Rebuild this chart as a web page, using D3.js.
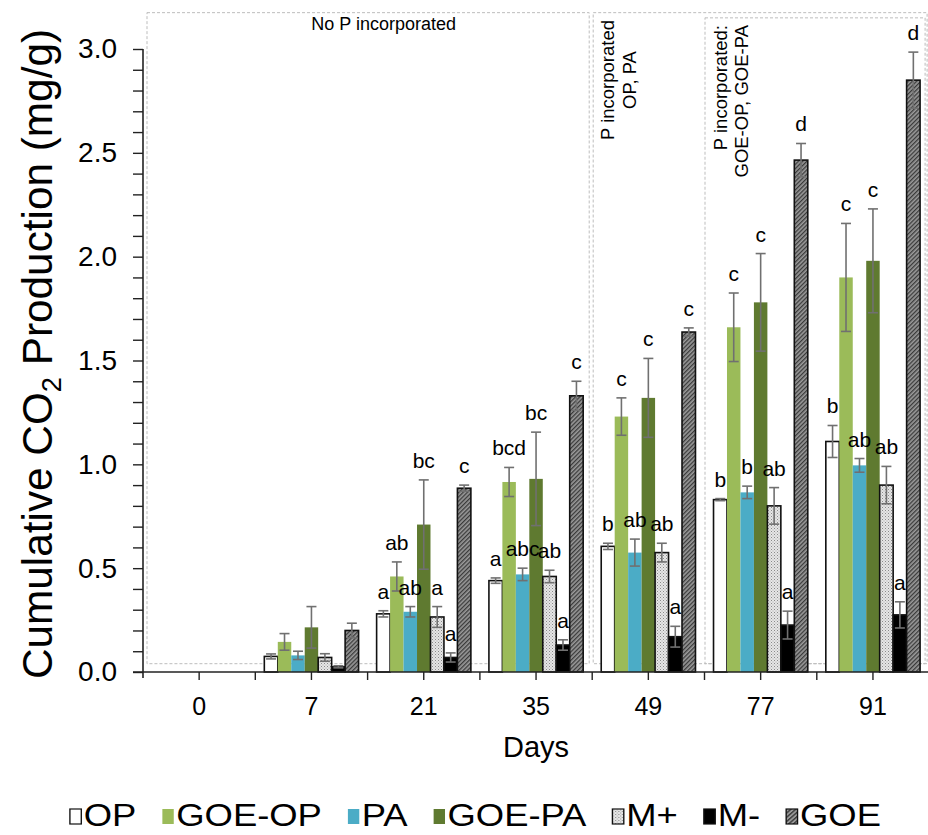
<!DOCTYPE html>
<html>
<head>
<meta charset="utf-8">
<script src="https://cdn.jsdelivr.net/npm/d3@7"></script>
<style>
  body { margin: 0; background: #fff; }
  text { font-family: "Liberation Sans", Arial, sans-serif; fill: #000; }
</style>
</head>
<body>
<svg id="chart" width="928" height="835"></svg>
<script>
// Sampling days (x categories) and treatments (series)
const days = ["0", "7", "21", "35", "49", "77", "91"];
const treatments = ["OP", "GOE-OP", "PA", "GOE-PA", "M+", "M-", "GOE"];

// Mean cumulative CO2 (mg/g) per treatment, one value per day
const meanOP    = [0, 0.075, 0.28, 0.44, 0.605, 0.83, 1.11];
const meanGOEOP = [0, 0.145, 0.46, 0.915, 1.23, 1.66, 1.90];
const meanPA    = [0, 0.08, 0.29, 0.47, 0.575, 0.865, 0.995];
const meanGOEPA = [0, 0.215, 0.71, 0.93, 1.32, 1.78, 1.98];
const meanMplus = [0, 0.07, 0.265, 0.46, 0.575, 0.80, 0.90];
const meanMminus= [0, 0.025, 0.07, 0.13, 0.17, 0.226, 0.275];
const meanGOE   = [0, 0.20, 0.885, 1.33, 1.637, 2.465, 2.85];

// Standard errors
const errOP    = [0, 0.012, 0.015, 0.013, 0.015, 0.005, 0.077];
const errGOEOP = [0, 0.04, 0.07, 0.07, 0.09, 0.165, 0.26];
const errPA    = [0, 0.02, 0.025, 0.03, 0.065, 0.03, 0.033];
const errGOEPA = [0, 0.10, 0.215, 0.225, 0.19, 0.235, 0.25];
const errMplus = [0, 0.018, 0.05, 0.03, 0.045, 0.088, 0.09];
const errMminus= [0, 0.005, 0.022, 0.025, 0.05, 0.067, 0.063];
const errGOE   = [0, 0.035, 0.015, 0.07, 0.02, 0.08, 0.135];

// Significance letters
const sigOP    = ["", "", "a", "a", "b", "b", "b"];
const sigGOEOP = ["", "", "ab", "bcd", "c", "c", "c"];
const sigPA    = ["", "", "ab", "abc", "ab", "b", "ab"];
const sigGOEPA = ["", "", "bc", "bc", "c", "c", "c"];
const sigMplus = ["", "", "a", "ab", "ab", "ab", "ab"];
const sigMminus= ["", "", "a", "a", "a", "a", "a"];
const sigGOE   = ["", "", "c", "c", "c", "d", "d"];

// Y axis ticks
const yMajorTicks = [0, 0.5, 1.0, 1.5, 2.0, 2.5, 3.0];
const yMinorTicks = d3.range(0, 31).map(i => i / 10);

const means = [meanOP, meanGOEOP, meanPA, meanGOEPA, meanMplus, meanMminus, meanGOE];
const errs  = [errOP, errGOEOP, errPA, errGOEPA, errMplus, errMminus, errGOE];
const sigs  = [sigOP, sigGOEOP, sigPA, sigGOEPA, sigMplus, sigMminus, sigGOE];

const fills = ["#ffffff", "#9bbb59", "#4bacc6", "#5f7a30", "url(#dots)", "#000000", "url(#hatch)"];
const outlined = [true, false, false, false, true, true, true];

const svg = d3.select("#chart");

// Patterns for M+ (fine dots) and GOE (dense diagonal hatching)
const defs = svg.append("defs");
const dots = defs.append("pattern").attr("id", "dots")
  .attr("patternUnits", "userSpaceOnUse").attr("width", 3).attr("height", 3);
dots.append("rect").attr("width", 3).attr("height", 3).attr("fill", "#e6e6e6");
dots.append("rect").attr("x", 0).attr("y", 0).attr("width", 1).attr("height", 1).attr("fill", "#8a8a8a");
dots.append("rect").attr("x", 1.5).attr("y", 1.5).attr("width", 1).attr("height", 1).attr("fill", "#a8a8a8");

const hatch = defs.append("pattern").attr("id", "hatch")
  .attr("patternUnits", "userSpaceOnUse").attr("width", 3).attr("height", 3)
  .attr("patternTransform", "rotate(45)");
hatch.append("rect").attr("width", 3).attr("height", 3).attr("fill", "#9a9a9a");
hatch.append("rect").attr("width", 1.3).attr("height", 3).attr("fill", "#3a3a3a");

// Scales
const plotLeft = 143, plotRight = 929.1, plotBottom = 672, plotTop = 49;
const x = d3.scaleBand().domain(days).range([plotLeft, plotRight]).paddingInner(0).paddingOuter(0);
const xs = d3.scaleBand().domain(treatments).range([0, x.bandwidth()]).paddingInner(0).paddingOuter(0.67);
const y = d3.scaleLinear().domain([0, 3]).range([plotBottom, plotTop]);

// Annotation boxes (dashed) marking when P was incorporated
const boxes = [
  { from: "0",  to: "49", top: 3.175, bottom: 0.04, padL: 4, padR: -3 },
  { from: "49", to: null, top: 3.175, bottom: 0.04, padL: 1, padR: -2 },
  { from: "77", to: null, top: 3.15,  bottom: 0.04, padL: 0.5, padR: -4 }
];
svg.append("g").selectAll("rect").data(boxes).join("rect")
  .attr("x", d => x(d.from) + d.padL)
  .attr("y", d => y(d.top))
  .attr("width", d => (d.to ? x(d.to) : plotRight) + d.padR - x(d.from) - d.padL)
  .attr("height", d => y(d.bottom) - y(d.top))
  .attr("fill", "none").attr("stroke", "#bdbdbd").attr("stroke-width", 1)
  .attr("stroke-dasharray", "3,2");

svg.append("text").attr("x", x("21") + x.bandwidth() / 2 - 40).attr("y", 30)
  .attr("text-anchor", "middle").attr("font-size", 18).text("No P incorporated");

const note2 = svg.append("text").attr("transform", `translate(${x("49") + 22},80) rotate(-90)`)
  .attr("text-anchor", "middle").attr("font-size", 18.5);
note2.append("tspan").attr("x", 0).attr("y", 0).text("P incorporated");
note2.append("tspan").attr("x", 0).attr("y", 22).text("OP, PA");

const note3 = svg.append("text").attr("transform", `translate(${x("77") + 22},25) rotate(-90)`)
  .attr("text-anchor", "end").attr("font-size", 18.5);
note3.append("tspan").attr("x", 0).attr("y", 0).text("P incorporated:");
note3.append("tspan").attr("x", 0).attr("y", 21).text("GOE-OP, GOE-PA");

// Bars
const rows = [];
treatments.forEach((t, ti) => days.forEach((d, di) => {
  rows.push({ t, ti, d, v: means[ti][di], e: errs[ti][di], s: sigs[ti][di] });
}));

const bars = svg.append("g");
bars.selectAll("rect").data(rows.filter(r => r.v > 0)).join("rect")
  .attr("x", r => x(r.d) + xs(r.t))
  .attr("y", r => y(r.v))
  .attr("width", xs.bandwidth())
  .attr("height", r => y(0) - y(r.v))
  .attr("fill", r => fills[r.ti])
  .attr("stroke", r => outlined[r.ti] ? "#111" : "none")
  .attr("stroke-width", 1.6);

// Error bars
const eb = svg.append("g").attr("stroke", "#707070").attr("stroke-width", 1.6);
rows.filter(r => r.e > 0).forEach(r => {
  const cx = x(r.d) + xs(r.t) + xs.bandwidth() / 2;
  const y1 = y(r.v + r.e), y0 = y(Math.max(0, r.v - r.e));
  eb.append("line").attr("x1", cx).attr("x2", cx).attr("y1", y1).attr("y2", y0);
  eb.append("line").attr("x1", cx - 5).attr("x2", cx + 5).attr("y1", y1).attr("y2", y1);
  eb.append("line").attr("x1", cx - 5).attr("x2", cx + 5).attr("y1", y0).attr("y2", y0);
});

// Significance letters
svg.append("g").selectAll("text").data(rows.filter(r => r.s)).join("text")
  .attr("x", r => x(r.d) + xs(r.t) + xs.bandwidth() / 2)
  .attr("y", r => y(r.v + r.e) - 12)
  .attr("text-anchor", "middle").attr("font-size", 21)
  .text(r => r.s);

// Y axis
const yAxis = d3.axisLeft(y).tickValues(yMinorTicks).tickSize(10).tickSizeOuter(0).tickPadding(16)
  .tickFormat(v => yMajorTicks.some(m => Math.abs(m - v) < 1e-9) ? d3.format(".1f")(v) : "");
const gy = svg.append("g").attr("transform", `translate(${plotLeft},0)`).call(yAxis);
gy.select(".domain").remove();
gy.selectAll(".tick line").attr("stroke", "#222").attr("stroke-width", 1.4);
gy.selectAll(".tick text").attr("font-size", 28).attr("fill", "#000")
  .attr("font-family", "'Liberation Sans', Arial, sans-serif");
svg.append("line").attr("x1", plotLeft).attr("x2", plotLeft).attr("y1", y(3)).attr("y2", plotBottom + 6)
  .attr("stroke", "#222").attr("stroke-width", 1.6);

// X axis
const xAxis = d3.axisBottom(x).tickSize(8).tickSizeOuter(0).tickPadding(17);
const gx = svg.append("g").attr("transform", `translate(0,${plotBottom})`).call(xAxis);
gx.select(".domain").remove();
gx.selectAll(".tick line").attr("stroke", "#222").attr("stroke-width", 1.4);
gx.selectAll(".tick text").attr("font-size", 25).attr("fill", "#000")
  .attr("font-family", "'Liberation Sans', Arial, sans-serif");
gx.selectAll("line.boundary").data(days.slice(1)).join("line").attr("class", "boundary")
  .attr("x1", d => x(d)).attr("x2", d => x(d)).attr("y1", 0).attr("y2", 8)
  .attr("stroke", "#222").attr("stroke-width", 1.4);
svg.append("line").attr("x1", plotLeft - 10).attr("x2", 928).attr("y1", plotBottom).attr("y2", plotBottom)
  .attr("stroke", "#222").attr("stroke-width", 1.6);

svg.append("text").attr("x", (plotLeft + plotRight) / 2).attr("y", 757)
  .attr("text-anchor", "middle").attr("font-size", 29).text("Days");

// Y axis title
const yt = svg.append("text").attr("transform", `translate(52,354) rotate(-90)`)
  .attr("text-anchor", "middle").attr("font-size", 42)
  .attr("textLength", 650).attr("lengthAdjust", "spacingAndGlyphs");
yt.append("tspan").text("Cumulative CO");
yt.append("tspan").attr("font-size", 27).attr("dy", 9).text("2");
yt.append("tspan").attr("dy", -9).text(" Production (mg/g)");

// Legend, laid out in a row and then fitted to the chart width
const legend = svg.append("g");
let lx = 0;
treatments.forEach((t, i) => {
  const g = legend.append("g").attr("transform", `translate(${lx},0)`);
  g.append("rect").attr("x", 0.8).attr("y", -17).attr("width", 10).attr("height", 15)
    .attr("fill", fills[i]).attr("stroke", outlined[i] ? "#111" : "none").attr("stroke-width", 1.2);
  const tx = g.append("text").attr("x", 13).attr("y", 0).attr("font-size", 32).text(t);
  lx += 13 + tx.node().getComputedTextLength() + (i < treatments.length - 1 ? 22 : 0);
});
const legendScale = (881 - 69) / lx;
legend.attr("transform", `translate(69,826) scale(${legendScale},1)`);
</script>
</body>
</html>
